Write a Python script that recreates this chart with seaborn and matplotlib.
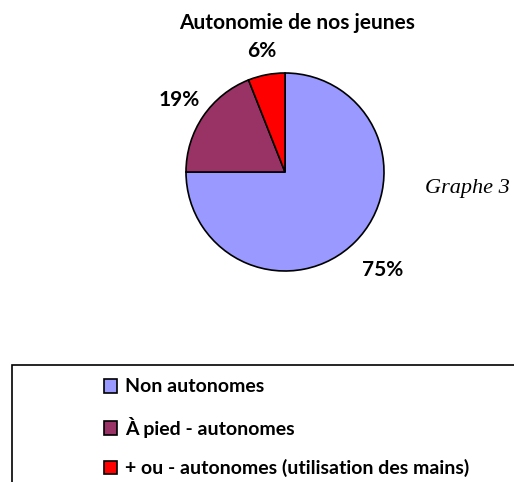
import numpy as np
import matplotlib
matplotlib.use('Agg')
import matplotlib.pyplot as plt
import seaborn as sns
from matplotlib.patches import Rectangle, Patch

# ── Data ─────────────────────────────────────────────
categories = ['Non autonomes', 'À pied - autonomes',
              '+ ou - autonomes (utilisation des mains)']
values = [75, 19, 6]
colors = ['#9999FF', '#993366', '#FF0000']
title = 'Autonomie de nos jeunes'

sns.set_style('white')
plt.rcParams['font.family'] = ['Lato', 'DejaVu Sans']
plt.rcParams['font.weight'] = 'bold'
plt.rcParams['text.color'] = 'black'

W, H = 514, 482
fig = plt.figure(figsize=(W / 100, H / 100), dpi=100)

# pie: centre (285, 172) px from top-left, radius 99 px
cx, cy, r = 285, 172, 99
ax = fig.add_axes([(cx - r) / W, (H - cy - r) / H, 2 * r / W, 2 * r / H])
wedges, texts, autotexts = ax.pie(
    values, colors=colors, startangle=90, counterclock=False,
    autopct='%1.0f%%', pctdistance=1.3,
    wedgeprops=dict(edgecolor='black', linewidth=1.2),
    textprops=dict(fontsize=15, fontweight='bold', color='black'))
ax.set_xlim(-1, 1)
ax.set_ylim(-1, 1)
ax.set_aspect('equal')

# place labels like the original (different distance per slice)
dists = [1.40, 1.29, 1.24]
for w, t, d in zip(wedges, autotexts, dists):
    ang = np.deg2rad((w.theta1 + w.theta2) / 2)
    t.set_position((d * np.cos(ang), d * np.sin(ang)))
    t.set_ha('center')
    t.set_va('center')

fig.text(297 / W, 1 - 23 / H, title, ha='center', va='center',
         fontsize=15, fontweight='bold', color='black')
fig.text(425 / W, 1 - 188 / H, 'Graphe 3', ha='left', va='center',
         fontsize=16, fontstyle='italic', fontweight='normal',
         family='Liberation Serif', color='black')

# legend box
fig.patches.append(Rectangle((12 / W, -0.1), 1.1, (H - 365) / H + 0.1,
                             transform=fig.transFigure, fill=False,
                             edgecolor='black', linewidth=1.2))
handles = [Patch(facecolor=c, edgecolor='black', linewidth=1.2) for c in colors]
leg = fig.legend(handles, categories, loc='upper left',
                 bbox_to_anchor=(86 / W, 1 - 361 / H), frameon=False,
                 prop=dict(size=14, weight='bold'), handlelength=0.7,
                 handleheight=0.7, handletextpad=0.4, labelspacing=1.1)
for t in leg.get_texts():
    t.set_color('black')

fig.savefig('out.png', dpi=100)
